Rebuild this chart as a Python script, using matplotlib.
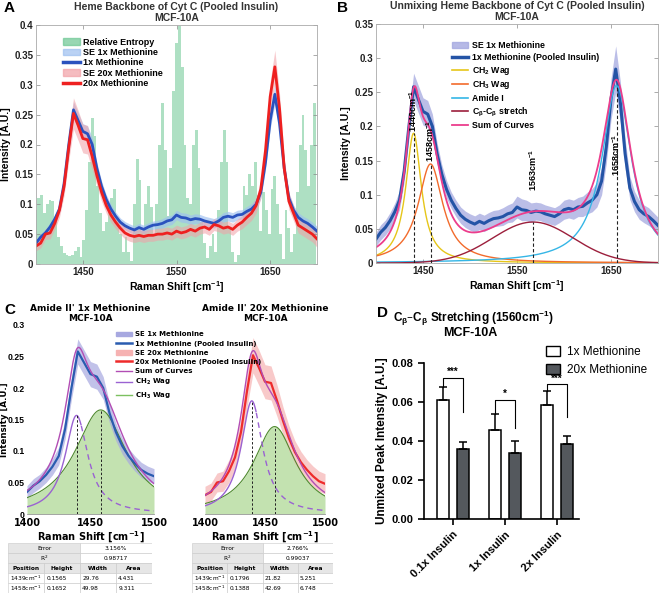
import numpy as np
import matplotlib
matplotlib.use('Agg')
import matplotlib.pyplot as plt
from matplotlib.patches import Patch, Rectangle
from matplotlib.lines import Line2D
from matplotlib.ticker import FuncFormatter

# ---------------- data ----------------
# mean spectra, read every 5 cm-1 from 1400 to 1700
shift = list(range(1400, 1701, 5))
met1x = [0.035, 0.045, 0.052, 0.062, 0.075, 0.092, 0.135, 0.200, 0.258, 0.240,
         0.222, 0.218, 0.200, 0.160, 0.130, 0.108, 0.092, 0.080, 0.070, 0.064,
         0.060, 0.057, 0.061, 0.058, 0.062, 0.065, 0.066, 0.068, 0.072, 0.074,
         0.082, 0.078, 0.077, 0.074, 0.076, 0.075, 0.072, 0.070, 0.068, 0.072,
         0.078, 0.080, 0.078, 0.082, 0.083, 0.088, 0.092, 0.100, 0.120, 0.170,
         0.240, 0.284, 0.235, 0.160, 0.110, 0.090, 0.078, 0.072, 0.068, 0.062,
         0.055]
met20x = [0.030, 0.035, 0.050, 0.052, 0.068, 0.090, 0.130, 0.195, 0.252, 0.232,
          0.210, 0.208, 0.180, 0.148, 0.120, 0.098, 0.082, 0.070, 0.060, 0.052,
          0.048, 0.046, 0.048, 0.046, 0.048, 0.048, 0.050, 0.050, 0.052, 0.050,
          0.055, 0.052, 0.054, 0.058, 0.055, 0.060, 0.062, 0.058, 0.066, 0.064,
          0.060, 0.062, 0.058, 0.065, 0.070, 0.078, 0.085, 0.098, 0.125, 0.190,
          0.280, 0.330, 0.260, 0.160, 0.105, 0.085, 0.065, 0.060, 0.055, 0.050,
          0.042]
se1x = [0.006, 0.006, 0.006, 0.007, 0.007, 0.008, 0.010, 0.012, 0.014, 0.013,
        0.013, 0.013, 0.012, 0.010, 0.009, 0.008, 0.008, 0.007, 0.007, 0.007,
        0.007, 0.007, 0.007, 0.007, 0.007, 0.007, 0.007, 0.008, 0.008, 0.008,
        0.008, 0.008, 0.008, 0.008, 0.008, 0.008, 0.008, 0.008, 0.008, 0.008,
        0.008, 0.008, 0.008, 0.008, 0.008, 0.008, 0.009, 0.009, 0.010, 0.012,
        0.014, 0.016, 0.014, 0.011, 0.009, 0.008, 0.008, 0.008, 0.008, 0.008,
        0.008]
se20x = [0.008, 0.008, 0.009, 0.010, 0.010, 0.012, 0.015, 0.022, 0.026, 0.025,
         0.024, 0.024, 0.022, 0.018, 0.015, 0.013, 0.012, 0.011, 0.010, 0.010,
         0.010, 0.010, 0.010, 0.010, 0.010, 0.010, 0.010, 0.010, 0.010, 0.010,
         0.010, 0.010, 0.010, 0.010, 0.010, 0.010, 0.010, 0.010, 0.010, 0.010,
         0.010, 0.010, 0.010, 0.010, 0.011, 0.012, 0.012, 0.013, 0.015, 0.020,
         0.025, 0.028, 0.025, 0.018, 0.014, 0.013, 0.013, 0.013, 0.013, 0.013,
         0.014]
se1x_pooled = [0.010, 0.011, 0.011, 0.012, 0.013, 0.014, 0.016, 0.018, 0.020, 0.020,
               0.020, 0.020, 0.018, 0.016, 0.014, 0.013, 0.012, 0.012, 0.012, 0.012,
               0.012, 0.012, 0.012, 0.012, 0.012, 0.012, 0.012, 0.013, 0.013, 0.014,
               0.016, 0.016, 0.015, 0.014, 0.013, 0.013, 0.013, 0.013, 0.013, 0.013,
               0.014, 0.014, 0.014, 0.014, 0.015, 0.016, 0.017, 0.018, 0.020, 0.024,
               0.030, 0.034, 0.030, 0.022, 0.017, 0.015, 0.014, 0.013, 0.013, 0.012,
               0.012]
# 20x band for 1400-1500 only (panel C)
se20x_pooled = [0.014, 0.014, 0.015, 0.016, 0.018, 0.020, 0.022, 0.026, 0.028, 0.028,
                0.027, 0.027, 0.025, 0.022, 0.020, 0.018, 0.017, 0.016, 0.016, 0.016,
                0.016]

# relative entropy bars, every 3 cm-1 from 1400
entropy = [0.090, 0.110, 0.115, 0.085, 0.100, 0.107, 0.105, 0.070, 0.045, 0.030,
           0.018, 0.015, 0.014, 0.015, 0.022, 0.028, 0.012, 0.040, 0.090, 0.170,
           0.245, 0.215, 0.130, 0.085, 0.055, 0.070, 0.095, 0.110, 0.125, 0.075,
           0.050, 0.020, 0.045, 0.020, 0.005, 0.100, 0.175, 0.140, 0.055, 0.100,
           0.130, 0.095, 0.050, 0.100, 0.200, 0.270, 0.190, 0.080, 0.160, 0.290,
           0.370, 0.398, 0.330, 0.200, 0.110, 0.100, 0.200, 0.225, 0.160, 0.070,
           0.035, 0.010, 0.030, 0.050, 0.020, 0.090, 0.170, 0.225, 0.170, 0.060,
           0.020, 0.004, 0.015, 0.070, 0.130, 0.115, 0.150, 0.130, 0.170, 0.115,
           0.055, 0.120, 0.090, 0.050, 0.125, 0.148, 0.100, 0.050, 0.008, 0.090,
           0.060, 0.020, 0.050, 0.120, 0.200, 0.250, 0.190, 0.130, 0.200, 0.270]
entropy_shift = list(range(1400, 1400 + 3 * len(entropy), 3))

# panel B unmixing components
b_names = ['CH$_2$ Wag', 'CH$_3$ Wag', 'Amide I', r'C$_\beta$-C$_\beta$ stretch']
b_center = [1440, 1458, 1656, 1567]
b_height = [0.19, 0.145, 0.26, 0.06]
b_width = [10, 16, 19, 43]
b_label = ['1440cm$^{-1}$', '1458cm$^{-1}$', '1658cm$^{-1}$', '1563cm$^{-1}$']
b_label_y = [0.192, 0.148, 0.127, 0.105]

# panel C fits (position, height, half width)
c_pos = [1439, 1458]
c_height_1x = [0.1565, 0.1652]
c_hw_1x = [10.9, 25.0]
c_height_20x = [0.1796, 0.1388]
c_hw_20x = [10.9, 21.35]
table_1x = ['3.156%', '0.98717',
            ['1439cm$^{-1}$', '0.1565', '29.76', '4.431'],
            ['1458cm$^{-1}$', '0.1652', '49.98', '9.311']]
table_20x = ['2.766%', '0.99037',
             ['1439cm$^{-1}$', '0.1796', '21.82', '5.251'],
             ['1458cm$^{-1}$', '0.1388', '42.69', '6.748']]

# panel D
groups = ['0.1x Insulin', '1x Insulin', '2x Insulin']
d_1x = [0.0609, 0.0456, 0.0583]
d_1x_err = [0.0068, 0.0083, 0.0072]
d_20x = [0.0357, 0.0340, 0.0384]
d_20x_err = [0.0040, 0.0058, 0.0044]
sig = ['***', '*', '***']
bracket_top = [0.0725, 0.061, 0.069]
bracket_right = [0.055, 0.0465, 0.0524]

# ---------------- figure ----------------
W, H = 664, 593
fig = plt.figure(figsize=(W / 100, H / 100), dpi=100)
plt.rcParams['font.family'] = ['Liberation Sans', 'DejaVu Sans']
plt.rcParams['mathtext.default'] = 'regular'


def box(x0, y0, x1, y1):
    return [x0 / W, 1 - y1 / H, (x1 - x0) / W, (y1 - y0) / H]


fmt = FuncFormatter(lambda v, p: '%g' % round(v, 3))
x = np.array(shift)


def matlab_axes(ax, ylim, yticks):
    ax.set_xlim(1400, 1700)
    ax.set_ylim(*ylim)
    ax.set_xticks([1450, 1550, 1650])
    ax.set_yticks(yticks)
    ax.yaxis.set_major_formatter(fmt)
    ax.tick_params(direction='in', top=True, right=True, length=3, width=0.5,
                   color='#888888', labelsize=7, pad=2)
    for lab in ax.get_xticklabels() + ax.get_yticklabels():
        lab.set_fontweight('bold')
        lab.set_color('#222222')
    for s in ax.spines.values():
        s.set_color('#aaaaaa')
        s.set_linewidth(0.6)
    ax.set_xlabel('Raman Shift [cm$^{-1}$]', fontsize=7.5, fontweight='bold', labelpad=2)
    ax.set_ylabel('Intensity [A.U.]', fontsize=7.5, fontweight='bold', labelpad=2)


# ---- A ----
axA = fig.add_axes(box(36, 25, 317, 264))
axA.bar(entropy_shift, entropy, width=3, color='#6cc793', alpha=0.55, linewidth=0)
m1, s1 = np.array(met1x), np.array(se1x)
m2, s2 = np.array(met20x), np.array(se20x)
axA.fill_between(x, m1 - s1, m1 + s1, color='#9dbff0', alpha=0.65, linewidth=0)
axA.plot(x, m1, color='#2a52be', lw=2)
axA.fill_between(x, m2 - s2, m2 + s2, color='#f2a0a6', alpha=0.55, linewidth=0)
axA.plot(x, m2, color='#ee2020', lw=2)
matlab_axes(axA, (0, 0.4), np.arange(0, 0.41, 0.05))
axA.set_title('Heme Backbone of Cyt C (Pooled Insulin)\nMCF-10A', fontsize=7.5,
              fontweight='bold', color='#333333', pad=3, linespacing=1.05)
handles = [Patch(color='#6cc793', alpha=0.7), Patch(color='#9dbff0', alpha=0.7),
           Line2D([], [], color='#2a52be', lw=2.5), Patch(color='#f2a0a6', alpha=0.7),
           Line2D([], [], color='#ee2020', lw=2.5)]
fig.legend(handles, ['Relative Entropy', 'SE 1x Methionine', '1x Methionine',
                     'SE 20x Methionine', '20x Methionine'],
           loc='upper left', bbox_to_anchor=(58 / W, 1 - 33 / H), frameon=False,
           prop={'size': 6.5, 'weight': 'bold'}, labelspacing=0.15,
           handlelength=1.9, handletextpad=0.4, borderpad=0)

# ---- B ----
axB = fig.add_axes(box(376, 24, 658, 263))
sp = np.array(se1x_pooled)
axB.fill_between(x, m1 - sp, m1 + sp, color='#a4a8e0', alpha=0.75, linewidth=0)
axB.plot(x, m1, color='#2454a6', lw=2.2)
xf = np.linspace(1400, 1700, 601)
b_colors = ['#e6c619', '#f26b2c', '#35b6e6', '#9c1f3c']
comps = []
for i in range(4):
    if i < 3:
        y = b_height[i] / (1 + ((xf - b_center[i]) / b_width[i]) ** 2)
    else:
        y = b_height[i] * np.exp(-(xf - b_center[i]) ** 2 / (2 * b_width[i] ** 2))
    comps.append(y)
    axB.plot(xf, y, color=b_colors[i], lw=1)
total = np.sum(comps, axis=0)
axB.plot(xf, total, color='#ec3d8c', lw=1.3)
for i in range(4):
    axB.plot([b_center[i], b_center[i]], [0, b_height[i]], color='#222222',
             lw=0.8, ls=(0, (3, 2)))
    axB.text(b_center[i], b_label_y[i], b_label[i], rotation=90, ha='center',
             va='bottom', fontsize=6.5, fontweight='bold')
matlab_axes(axB, (0, 0.35), np.arange(0, 0.351, 0.05))
axB.set_title('Unmixing Heme Backbone of Cyt C (Pooled Insulin)\nMCF-10A', fontsize=7.5,
              fontweight='bold', color='#333333', pad=3, linespacing=1.05)
handles = [Patch(color='#a4a8e0', alpha=0.8), Line2D([], [], color='#2454a6', lw=2.5)]
handles += [Line2D([], [], color=c, lw=1.2) for c in b_colors]
handles += [Line2D([], [], color='#ec3d8c', lw=1.3)]
fig.legend(handles, ['SE 1x Methionine', '1x Methionine (Pooled Insulin)'] + b_names +
           ['Sum of Curves'], loc='upper left', bbox_to_anchor=(448 / W, 1 - 37 / H),
           frameon=False, prop={'size': 6.3, 'weight': 'bold'}, labelspacing=0.3,
           handlelength=1.8, handletextpad=0.4, borderpad=0)

# ---- C ----
xc = np.linspace(1400, 1500, 401)
sel = x <= 1500


def c_axes(rect, mean, se, band, line, heights, hws, title, show_y):
    ax = fig.add_axes(rect)
    ch2 = heights[0] / (1 + ((xc - c_pos[0]) / hws[0]) ** 2)
    ch3 = heights[1] / (1 + ((xc - c_pos[1]) / hws[1]) ** 2)
    ax.fill_between(xc, 0, ch3, color='#c3e2b0', linewidth=0)
    ax.plot(xc, ch3, color='#4f8a2e', lw=0.8)
    ax.fill_between(x[sel], mean[sel] - se, mean[sel] + se, color=band,
                    alpha=0.7, linewidth=0)
    ax.plot(x[sel], mean[sel], color=line, lw=1.6)
    ax.plot(xc, ch2 + ch3, color='#b24db4', lw=1)
    solid = xc <= 1442.5
    ax.plot(xc[solid], ch2[solid], color='#9a62d2', lw=1)
    ax.plot(xc[~solid], ch2[~solid], color='#9a62d2', lw=1, ls=(0, (4, 3)))
    for i in range(2):
        ax.plot([c_pos[i], c_pos[i]], [0, heights[i]], color='#222222', lw=0.7,
                ls=(0, (2.5, 2)))
    ax.set_xlim(1400, 1500)
    ax.set_ylim(0, 0.3)
    ax.set_xticks([1400, 1450, 1500])
    ax.set_yticks(np.arange(0, 0.31, 0.05))
    ax.yaxis.set_major_formatter(fmt)
    ax.tick_params(axis='x', length=0, labelsize=7, pad=3)
    ax.tick_params(axis='y', length=0, labelsize=6.2, pad=1.5, labelleft=show_y)
    for lab in ax.get_xticklabels():
        lab.set_fontweight('bold')
        lab.set_family('DejaVu Sans')
    for lab in ax.get_yticklabels():
        lab.set_fontweight('bold')
    for k in ['top', 'right', 'left']:
        ax.spines[k].set_visible(False)
    ax.spines['bottom'].set_color('#999999')
    ax.spines['bottom'].set_linewidth(0.6)
    ax.set_xlabel('Raman Shift [cm$^{-1}$]', fontsize=7, fontweight='bold',
                  family='DejaVu Sans', labelpad=1)
    if show_y:
        ax.set_ylabel('Intensity [A.U.]', fontsize=6.2, fontweight='bold',
                      family='DejaVu Sans')
        ax.yaxis.set_label_coords(-0.14, 0.5)
    ax.set_title(title, fontsize=6.5, fontweight='bold', family='DejaVu Sans',
                 pad=3, linespacing=1.1)
    return ax


c_axes(box(27, 325, 154, 514), m1, sp[sel], '#a7a8e0', '#2a5cb0', c_height_1x, c_hw_1x,
       "Amide II' 1x Methionine\nMCF-10A", True)
c_axes(box(205, 325, 325, 514), m2, np.array(se20x_pooled), '#f6b2b2',
       '#ee2b2b', c_height_20x, c_hw_20x, "Amide II' 20x Methionine\nMCF-10A", False)
handles = [Patch(color='#a7a8e0'), Line2D([], [], color='#2a5cb0', lw=1.8),
           Patch(color='#f6b2b2'), Line2D([], [], color='#ee2b2b', lw=1.8),
           Line2D([], [], color='#b24db4', lw=1), Line2D([], [], color='#9a62d2', lw=1),
           Line2D([], [], color='#7cc060', lw=1)]
fig.legend(handles, ['SE 1x Methionine', '1x Methionine (Pooled Insulin)',
                     'SE 20x Methionine', '20x Methionine (Pooled Insulin)',
                     'Sum of Curves', 'CH$_2$ Wag', 'CH$_3$ Wag'],
           loc='upper left', bbox_to_anchor=(113 / W, 1 - 328 / H), frameon=False,
           prop={'size': 5, 'weight': 'bold', 'family': 'DejaVu Sans'},
           labelspacing=0.45, handlelength=2.3, handletextpad=0.3, borderpad=0)


# ---- tables ----
def draw_table(x0, x1, rows):
    ax = fig.add_axes(box(x0, 543, x1, 593))
    ax.set_xlim(0, 4)
    ax.set_ylim(5, 0)
    ax.axis('off')
    kw = dict(fontsize=4.2, family='DejaVu Sans', va='center')
    grey = '#e6e6e6'
    for r, name in enumerate(['Error', 'R$^2$']):
        ax.add_patch(Rectangle((0, r), 2, 1, facecolor=grey, edgecolor='#c8c8c8', lw=0.4))
        ax.add_patch(Rectangle((2, r), 2, 1, facecolor='white', edgecolor='#c8c8c8', lw=0.4))
        ax.text(1, r + 0.55, name, ha='center', **kw)
        ax.text(3, r + 0.55, rows[r], ha='center', **kw)
    for c, name in enumerate(['Position', 'Height', 'Width', 'Area']):
        ax.add_patch(Rectangle((c, 2), 1, 1, facecolor=grey, edgecolor='#c8c8c8', lw=0.4))
        ax.text(c + 0.5, 2.55, name, ha='center', fontweight='bold', **kw)
        for r in range(2):
            ax.add_patch(Rectangle((c, 3 + r), 1, 1, facecolor='white',
                                   edgecolor='#c8c8c8', lw=0.4))
            ax.text(c + 0.06, 3.55 + r, rows[2 + r][c], ha='left', **kw)


draw_table(8, 152, table_1x)
draw_table(192, 333, table_20x)

# ---- D ----
axD = fig.add_axes(box(424, 363, 579, 519))
pos = np.arange(len(groups))
off, bw = 0.19, 0.23
axD.bar(pos - off, d_1x, bw, yerr=[np.zeros(3), d_1x_err], color='white',
        edgecolor='black', lw=1.1, error_kw=dict(lw=1.1, capsize=3, capthick=1.1))
axD.bar(pos + off, d_20x, bw, yerr=[np.zeros(3), d_20x_err], color='#54585d',
        edgecolor='black', lw=1.1, error_kw=dict(lw=1.1, capsize=3, capthick=1.1))
for i in range(3):
    xl, xr = pos[i] - off, pos[i] + off
    axD.plot([xl, xl, xr, xr], [d_1x[i] + d_1x_err[i], bracket_top[i], bracket_top[i],
                                bracket_right[i]], color='black', lw=0.8)
    axD.text(pos[i], bracket_top[i] + 0.0005, sig[i], ha='center', va='bottom',
             fontsize=7, fontweight='bold')
axD.set_xlim(-0.557, 2.42)
axD.set_ylim(0, 0.08)
axD.set_yticks([0, 0.02, 0.04, 0.06, 0.08])
axD.yaxis.set_major_formatter(FuncFormatter(lambda v, p: '%.2f' % v))
axD.set_xticks(pos)
axD.set_xticklabels(groups, rotation=45, ha='right', rotation_mode='anchor')
for s in ['top', 'right']:
    axD.spines[s].set_visible(False)
for s in ['left', 'bottom']:
    axD.spines[s].set_linewidth(1.2)
axD.tick_params(width=1.2, length=4, labelsize=8)
for lab in axD.get_xticklabels() + axD.get_yticklabels():
    lab.set_fontweight('bold')
axD.set_ylabel('Unmixed Peak Intensity [A.U.]', fontsize=8.5, fontweight='bold', labelpad=3)
fig.text(473 / W, 1 - 318 / H, r'C$_\beta$–C$_\beta$ Stretching (1560cm$^{-1}$)',
         ha='center', va='center', fontsize=8.5, fontweight='bold')
fig.text(470 / W, 1 - 333 / H, 'MCF-10A', ha='center', va='center', fontsize=9,
         fontweight='bold')
handles = [Patch(facecolor='white', edgecolor='black', lw=1),
           Patch(facecolor='#54585d', edgecolor='black', lw=1)]
fig.legend(handles, ['1x Methionine', '20x Methionine'], loc='upper left',
           bbox_to_anchor=(540 / W, 1 - 340 / H), frameon=False, fontsize=8.5,
           labelspacing=0.55, handlelength=1.2, handleheight=0.9, handletextpad=0.6,
           borderpad=0)

# panel letters
for lab, px, py in [('A', 9, 8), ('B', 342, 8), ('C', 10, 310), ('D', 382, 313)]:
    fig.text(px / W, 1 - py / H, lab, ha='center', va='center', fontsize=11,
             fontweight='bold')

fig.savefig('out.png', dpi=100)
